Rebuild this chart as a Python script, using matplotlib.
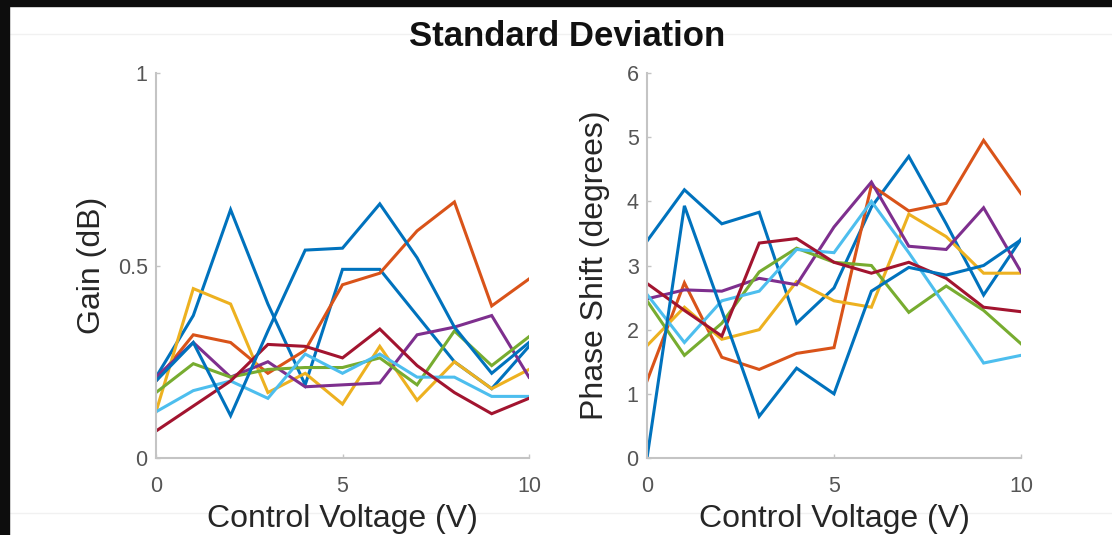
import matplotlib
matplotlib.use("Agg")
import matplotlib.pyplot as plt
from matplotlib.patches import Rectangle
from matplotlib.lines import Line2D

plt.rcParams['font.family'] = ['Liberation Sans', 'DejaVu Sans']

voltage = list(range(11))

colors = ['#0072BD', '#D95319', '#EDB120', '#7E2F8E', '#77AC30', '#4DBEEE', '#A2142F', '#0072BD']

gain_std = [
    [0.21, 0.37, 0.645, 0.40, 0.19, 0.49, 0.49, 0.37, 0.25, 0.18, 0.29],
    [0.20, 0.32, 0.30, 0.22, 0.28, 0.45, 0.48, 0.59, 0.665, 0.395, 0.465],
    [0.12, 0.44, 0.40, 0.17, 0.22, 0.14, 0.29, 0.15, 0.25, 0.18, 0.23],
    [0.21, 0.30, 0.21, 0.25, 0.185, 0.19, 0.195, 0.32, 0.34, 0.37, 0.21],
    [0.17, 0.245, 0.21, 0.23, 0.235, 0.235, 0.26, 0.19, 0.33, 0.24, 0.315],
    [0.12, 0.175, 0.20, 0.155, 0.27, 0.22, 0.27, 0.21, 0.21, 0.16, 0.16],
    [0.07, 0.135, 0.20, 0.295, 0.29, 0.26, 0.335, 0.24, 0.17, 0.115, 0.155],
    [0.20, 0.30, 0.11, 0.33, 0.54, 0.545, 0.66, 0.52, 0.34, 0.22, 0.30],
]

phase_std = [
    [3.38, 4.18, 3.65, 3.83, 2.10, 2.65, 3.91, 4.70, 3.65, 2.54, 3.41],
    [1.20, 2.73, 1.57, 1.38, 1.63, 1.72, 4.25, 3.85, 3.97, 4.95, 4.12],
    [1.75, 2.35, 1.85, 2.00, 2.75, 2.45, 2.35, 3.80, 3.45, 2.88, 2.88],
    [2.48, 2.62, 2.60, 2.80, 2.70, 3.60, 4.30, 3.30, 3.25, 3.90, 2.90],
    [2.45, 1.60, 2.10, 2.90, 3.27, 3.05, 3.00, 2.27, 2.68, 2.30, 1.78],
    [2.55, 1.80, 2.45, 2.60, 3.25, 3.20, 4.00, 3.20, 2.35, 1.48, 1.60],
    [2.72, 2.30, 1.90, 3.35, 3.42, 3.05, 2.88, 3.05, 2.80, 2.35, 2.28],
    [0.00, 3.93, 2.30, 0.65, 1.40, 1.00, 2.60, 2.97, 2.85, 3.00, 3.40],
]

title = 'Standard Deviation'
xlabel = 'Control Voltage (V)'
ylabels = ['Gain (dB)', 'Phase Shift (degrees)']
ylims = [(0, 1), (0, 6)]
yticks = [[0, 0.5, 1], [0, 1, 2, 3, 4, 5, 6]]
yticklabels = [['0', '0.5', '1'], ['0', '1', '2', '3', '4', '5', '6']]
xticks = [0, 5, 10]

W, H = 1112, 535
fig = plt.figure(figsize=(W / 100, H / 100), dpi=100)
fig.patch.set_facecolor('white')

# faint horizontal guide lines and black framing bands of the screenshot
for yp in (34, 513):
    fig.lines.append(Line2D([9 / W, 1], [1 - yp / H, 1 - yp / H], transform=fig.transFigure,
                            color='#f1f1f1', lw=1, zorder=-5))
fig.patches.append(Rectangle((0, 1 - 6 / H), 1, 6 / H, transform=fig.transFigure, color='#0d0d0d', zorder=-5))
fig.patches.append(Rectangle((0, 0), 9 / W, 1, transform=fig.transFigure, color='#0d0d0d', zorder=-5))

axes_pos = [
    [156 / W, 77 / H, 373 / W, 385 / H],
    [647 / W, 77 / H, 374 / W, 385 / H],
]
ylabel_x = [(107 - 156) / 373, (610 - 647) / 374]

datasets = [gain_std, phase_std]
for i in range(2):
    ax = fig.add_axes(axes_pos[i])
    ax.patch.set_alpha(0)
    for series, c in zip(datasets[i], colors):
        ax.plot(voltage, series, color=c, lw=2.2, solid_joinstyle='miter')
    ax.set_xlim(0, 10)
    ax.set_ylim(*ylims[i])
    ax.set_xticks(xticks)
    ax.set_xticklabels([str(t) for t in xticks])
    ax.set_yticks(yticks[i])
    ax.set_yticklabels(yticklabels[i])
    for s in ['top', 'right']:
        ax.spines[s].set_visible(False)
    for s in ['left', 'bottom']:
        ax.spines[s].set_color('#c4c4c4')
        ax.spines[s].set_linewidth(1.5)
    ax.tick_params(direction='in', length=3, width=1, colors='#c4c4c4',
                   labelcolor='#555555', labelsize=15.5)
    ax.tick_params(axis='x', pad=13)
    ax.tick_params(axis='y', pad=6)
    ax.set_xlabel(xlabel, fontsize=23, color='#262626')
    ax.xaxis.set_label_coords(0.5, (535 - 504 - 77) / 385)
    ax.set_ylabel(ylabels[i], fontsize=23, color='#262626')
    ax.yaxis.set_label_coords(ylabel_x[i], 0.5)

fig.text(567.5 / W, 1 - 46.5 / H, title, ha='center', va='baseline', fontsize=25,
         fontweight='bold', color='#111111')

fig.savefig('out.png', dpi=100)
